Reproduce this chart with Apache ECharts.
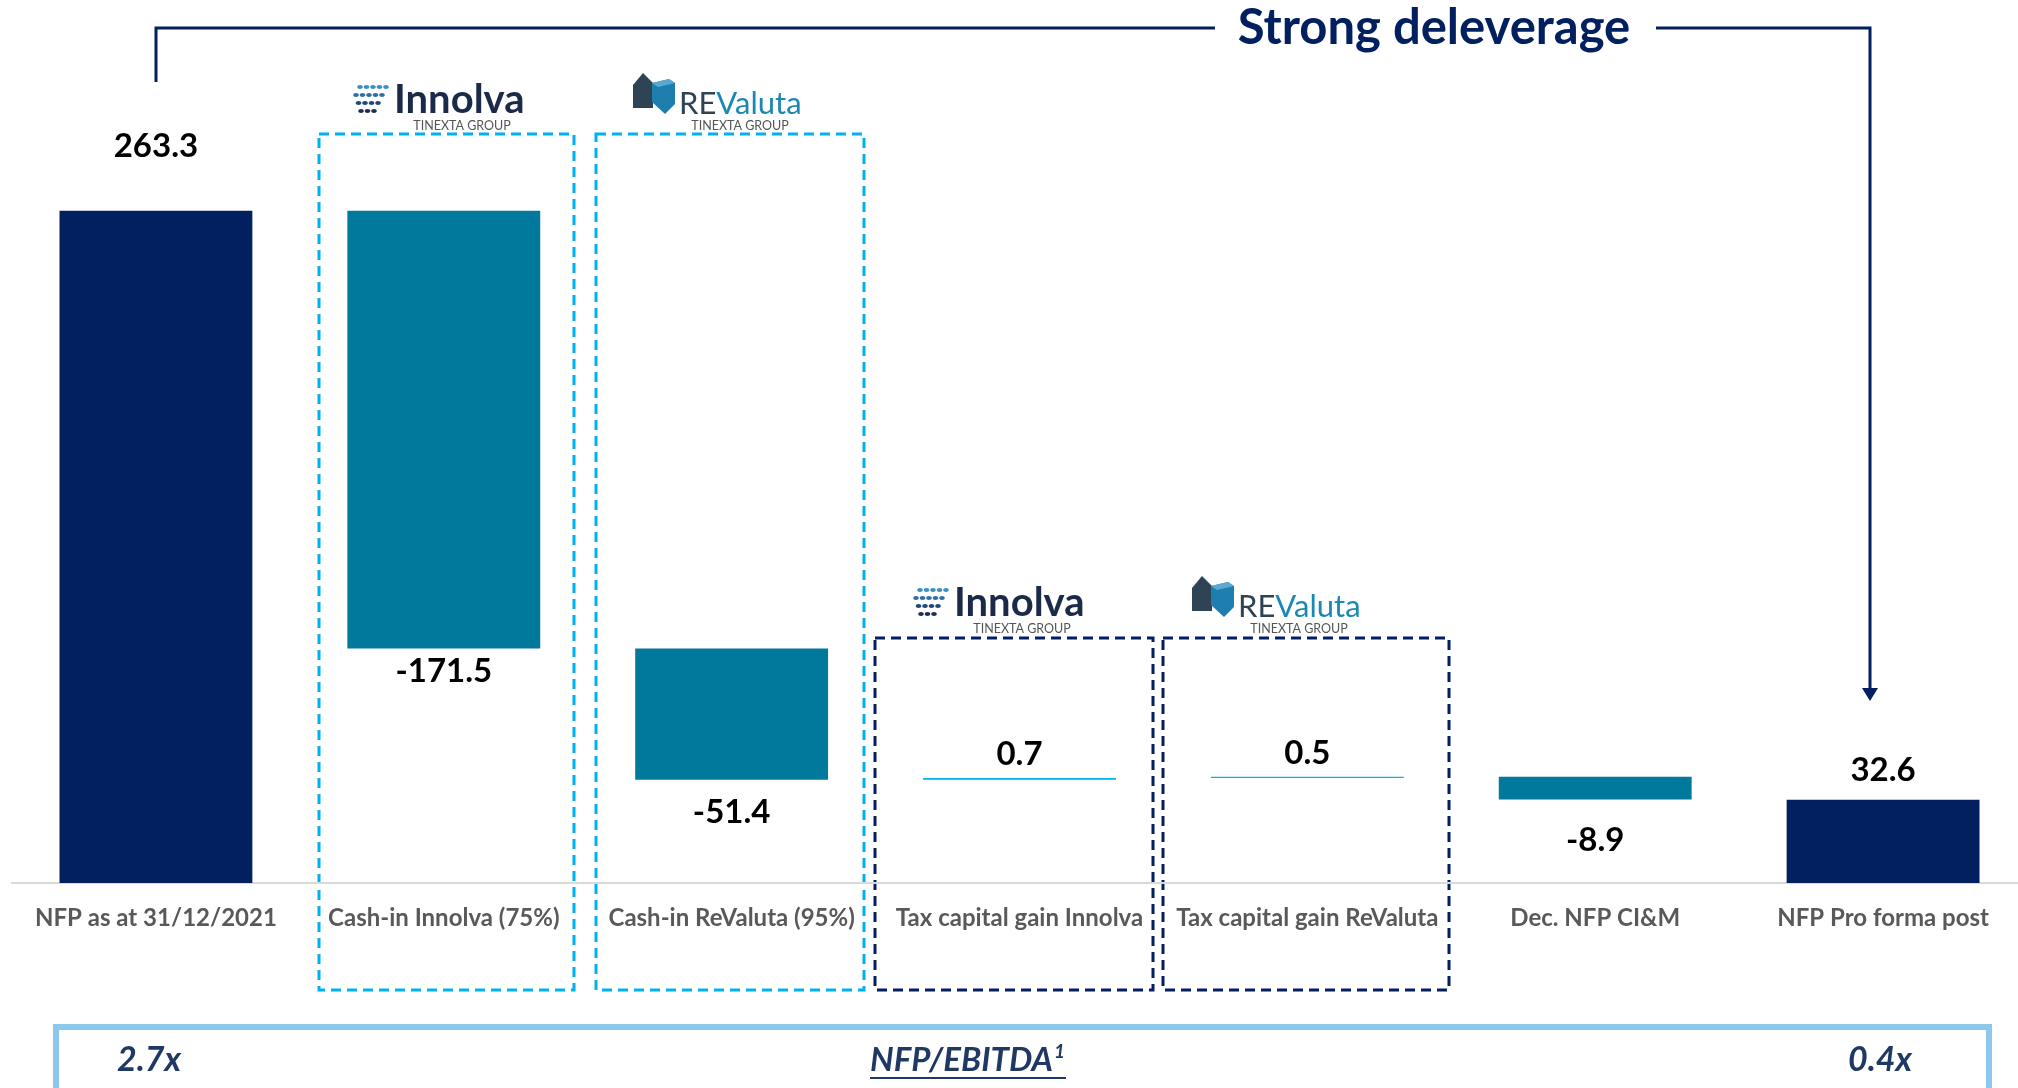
<!DOCTYPE html>
<html>
<head>
<meta charset="utf-8">
<title>NFP bridge</title>
<script src="https://cdn.jsdelivr.net/npm/echarts@6/dist/echarts.min.js"></script>
<style>
  html, body { margin: 0; padding: 0; background: #fff; }
  #chart { width: 2018px; height: 1088px; }
</style>
</head>
<body>
<div id="chart"></div>
<script>
// categories and values of the bridge (EUR m)
const categories = [
  'NFP as at 31/12/2021',
  'Cash-in Innolva (75%)',
  'Cash-in ReValuta (95%)',
  'Tax capital gain Innolva',
  'Tax capital gain ReValuta',
  'Dec. NFP CI&M',
  'NFP Pro forma post'
]
const deltas = [263.3, -171.5, -51.4, 0.7, 0.5, -8.9, 32.6]
const isTotal = [true, false, false, false, false, false, true]
const ratioFrom = '2.7x'
const ratioTo = '0.4x'
const ratioName = 'NFP/EBITDA'

const NAVY = '#022060'
const TEAL = '#00799C'
const SKY = '#00B0F0'
const FONT = 'Lato, "Open Sans", sans-serif'

// waterfall: invisible base + visible step
const base = []
const step = []
let running = 0
deltas.forEach((v, i) => {
  if (isTotal[i]) {
    base.push(0)
    step.push(v)
    running = v
  } else if (v < 0) {
    running = running + v
    base.push(+running.toFixed(1))
    step.push(-v)
  } else {
    base.push(+running.toFixed(1))
    step.push(v)
    running = running + v
  }
})

const labelGap = [48, 6, 16, 7, 7, 24, 13]
const stepData = step.map((h, i) => {
  const v = deltas[i]
  const color = isTotal[i] ? NAVY : (v < 0 ? TEAL : SKY)
  return {
    value: h,
    itemStyle: { color: color },
    label: {
      position: v < 0 ? 'bottom' : 'top',
      distance: labelGap[i]
    }
  }
})

function innolvaLogo(x, y) {
  const dots = []
  const rows = [
    { dx: 10, n: 5, c: '#3C8FC4' },
    { dx: 6, n: 5, c: '#2F6FA6' },
    { dx: 2, n: 4, c: '#1F4777' },
    { dx: -2, n: 3, c: '#1C2F52' }
  ]
  rows.forEach((r, ri) => {
    for (let k = 0; k < r.n; k++) {
      dots.push({
        type: 'ellipse',
        shape: { cx: x + r.dx + k * 6.5 + (5 - r.n) * 6.5, cy: y - 13 + ri * 8, rx: 2.8, ry: 2 },
        style: { fill: r.c }
      })
    }
  })
  return {
    type: 'group',
    children: dots.concat([
      {
        type: 'text', x: x + 44, y: y,
        style: { text: 'Innolva', font: 'bold 40px ' + FONT, fill: '#1C2A4A', textVerticalAlign: 'middle' }
      },
      {
        type: 'text', x: x + 112, y: y + 26,
        style: { text: 'TINEXTA GROUP', font: '12.5px ' + FONT, fill: '#555', textAlign: 'center', textVerticalAlign: 'middle' }
      }
    ])
  }
}

function revalutaLogo(x, y) {
  return {
    type: 'group',
    children: [
      {
        type: 'polygon',
        shape: { points: [[x, y - 15], [x + 10, y - 27], [x + 20, y - 17], [x + 20, y + 8], [x, y + 8]] },
        style: { fill: '#2E4354' }
      },
      {
        type: 'polygon',
        shape: { points: [[x + 19, y - 17], [x + 36, y - 21], [x + 42, y - 17], [x + 42, y + 4], [x + 32, y + 14], [x + 19, y + 2]] },
        style: { fill: '#1E7FAF' }
      },
      {
        type: 'polygon',
        shape: { points: [[x + 19, y - 17], [x + 36, y - 21], [x + 42, y - 17], [x + 25, y - 13]] },
        style: { fill: '#5AA9D1' }
      },
      {
        type: 'text', x: x + 46, y: y + 4,
        style: {
          text: '{a|RE}{b|Valuta}',
          textVerticalAlign: 'middle',
          rich: {
            a: { font: '31px ' + FONT, fill: '#2E4354' },
            b: { font: '31px ' + FONT, fill: '#1B87B5' }
          }
        }
      },
      {
        type: 'text', x: x + 107, y: y + 26,
        style: { text: 'TINEXTA GROUP', font: '12.5px ' + FONT, fill: '#555', textAlign: 'center', textVerticalAlign: 'middle' }
      }
    ]
  }
}

function dashedBox(x, y, w, h, color) {
  return {
    type: 'rect',
    shape: { x: x, y: y, width: w, height: h },
    style: { fill: 'none', stroke: color, lineWidth: 3, lineDash: [10, 6] }
  }
}

const option = {
  backgroundColor: '#fff',
  animation: false,
  grid: { left: 12, width: 2015, top: 117, bottom: 205, containLabel: false, outerBoundsMode: 'none' },
  xAxis: {
    type: 'category',
    data: categories,
    axisTick: { show: false },
    axisLine: { lineStyle: { color: '#D9D9D9', width: 2 } },
    axisLabel: {
      interval: 0,
      margin: 23,
      color: '#595959',
      fontFamily: FONT,
      fontWeight: 'bold',
      fontSize: 24
    }
  },
  yAxis: {
    type: 'value',
    min: 0,
    max: 300,
    show: false,
    splitLine: { show: false }
  },
  series: [
    {
      name: 'base',
      type: 'bar',
      stack: 'bridge',
      barWidth: '67%',
      itemStyle: { color: 'transparent' },
      data: base,
      silent: true
    },
    {
      name: 'step',
      type: 'bar',
      stack: 'bridge',
      barWidth: '67%',
      data: stepData,
      label: {
        show: true,
        color: '#000',
        fontFamily: FONT,
        fontWeight: 'bold',
        fontSize: 33,
        formatter: p => deltas[p.dataIndex].toFixed(1)
      }
    }
  ],
  graphic: [
    // bracket with arrow
    {
      type: 'polyline',
      shape: { points: [[156, 82], [156, 28], [1215, 28]] },
      style: { stroke: NAVY, lineWidth: 3, fill: 'none' }
    },
    {
      type: 'polyline',
      shape: { points: [[1656, 28], [1870, 28], [1870, 688]] },
      style: { stroke: NAVY, lineWidth: 3, fill: 'none' }
    },
    {
      type: 'polygon',
      shape: { points: [[1862, 688], [1878, 688], [1870, 701]] },
      style: { fill: NAVY }
    },
    {
      type: 'text', x: 1434, y: 28,
      style: {
        text: 'Strong deleverage', font: 'bold 49px ' + FONT, fill: NAVY,
        textAlign: 'center', textVerticalAlign: 'middle'
      }
    },
    dashedBox(319, 134, 255, 856, SKY),
    dashedBox(596, 134, 268, 856, SKY),
    dashedBox(875, 638, 278, 352, NAVY),
    dashedBox(1163, 638, 286, 352, NAVY),
    innolvaLogo(350, 100),
    revalutaLogo(633, 100),
    innolvaLogo(910, 603),
    revalutaLogo(1192, 603),
    // ratio box
    {
      type: 'rect',
      shape: { x: 56, y: 1027, width: 1933, height: 100 },
      style: { fill: '#fff', stroke: '#8CC8EB', lineWidth: 6 }
    },
    {
      type: 'text', x: 149, y: 1060,
      style: { text: ratioFrom, font: 'italic bold 34px ' + FONT, fill: '#1F3864', textAlign: 'center', textVerticalAlign: 'middle' }
    },
    {
      type: 'text', x: 1880, y: 1060,
      style: { text: ratioTo, font: 'italic bold 34px ' + FONT, fill: '#1F3864', textAlign: 'center', textVerticalAlign: 'middle' }
    },
    {
      type: 'text', x: 870, y: 1060,
      style: {
        text: '{a|' + ratioName + '}{s|1}',
        textVerticalAlign: 'middle',
        rich: {
          a: { font: 'italic bold 33px ' + FONT, fill: '#1F3864' },
          s: { font: 'italic bold 19px ' + FONT, fill: '#1F3864', verticalAlign: 'top', padding: [0, 0, 16, 1] }
        }
      }
    },
    {
      type: 'line',
      shape: { x1: 870, y1: 1078, x2: 1066, y2: 1078 },
      style: { stroke: '#1F3864', lineWidth: 2 }
    }
  ]
}

const chart = echarts.init(document.getElementById('chart'))
chart.setOption(option)
window.addEventListener('resize', () => chart.resize())
</script>
</body>
</html>
